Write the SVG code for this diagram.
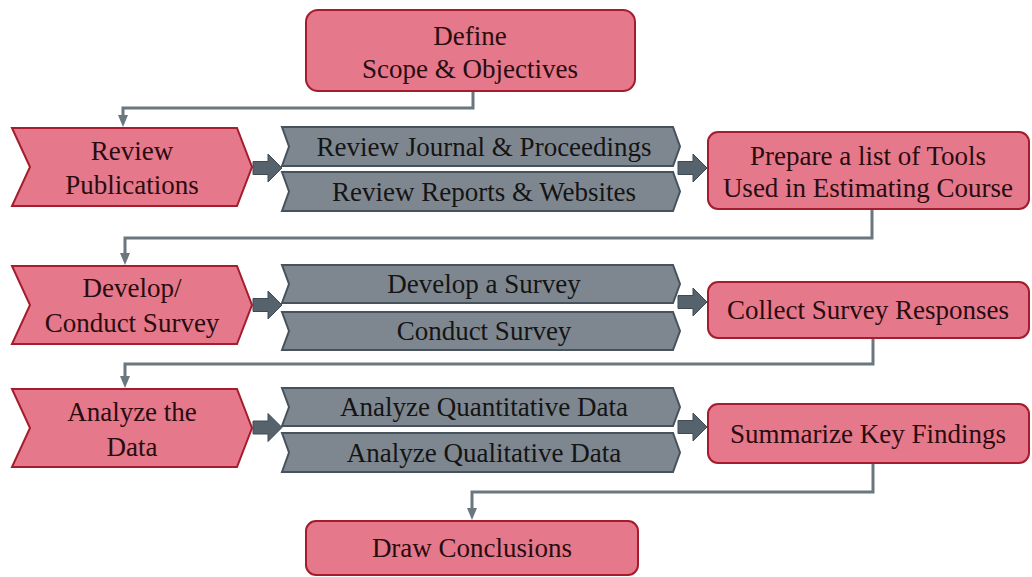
<svg xmlns="http://www.w3.org/2000/svg" width="1032" height="577" viewBox="0 0 1032 577">
  <defs>
    <style>
      .pink { fill: #E5788A; stroke: #A51C2C; stroke-width: 2; }
      .gray { fill: #7E878F; stroke: #46525C; stroke-width: 2; }
      .blk { fill: #56626C; stroke: #3E4A54; stroke-width: 1; }
      .conn { fill: none; stroke: #6B777F; stroke-width: 3; }
      .tp { fill: #2A0C10; }
      .tg { fill: #141414; }
      .lbl { font-family: 'Liberation Serif', 'Times New Roman', Times, 'Nimbus Roman', 'Nimbus Roman No9 L', FreeSerif, 'Noto Serif', 'DejaVu Serif', Tinos, serif; font-size: 27px; text-anchor: middle; }
    </style>
  </defs>

  <!-- connectors between stages -->
  <g id="connectors">
    <path class="conn" d="M473,91 V108 H123 V115"/>
    <path d="M118,115 L128,115 L123,127 Z" fill="#6B777F"/>
    <path class="conn" d="M872,209 V238 H125 V253"/>
    <path d="M120,253 L130,253 L125,265 Z" fill="#6B777F"/>
    <path class="conn" d="M873,338 V364 H125 V376"/>
    <path d="M120,376 L130,376 L125,388 Z" fill="#6B777F"/>
    <path class="conn" d="M873,463 V492 H472 V508"/>
    <path d="M467,508 L477,508 L472,520 Z" fill="#6B777F"/>

    <!-- block arrows -->
    <path class="blk" d="M253,161.5 H268 V154 L282,168 L268,182 V174.5 H253 Z"/>
    <path class="blk" d="M678,161.5 H693 V154 L707,168 L693,182 V174.5 H678 Z"/>
    <path class="blk" d="M253,298.5 H268 V291 L282,305 L268,319 V311.5 H253 Z"/>
    <path class="blk" d="M678,295.5 H693 V288 L707,302 L693,316 V308.5 H678 Z"/>
    <path class="blk" d="M253,421 H268 V413.5 L282,427.5 L268,441.5 V434 H253 Z"/>
    <path class="blk" d="M678,420.5 H693 V413 L707,427 L693,441 V433.5 H678 Z"/>
  </g>

  <g class="lbl">
  <!-- start -->
  <g id="define">
    <rect class="pink" x="306" y="10" width="329" height="81" rx="12"/>
    <text class="tp" x="470" y="45">Define</text>
    <text class="tp" x="470" y="78">Scope &amp; Objectives</text>
  </g>

  <!-- stage 1 -->
  <g id="review-publications">
    <polygon class="pink" points="12,128 237,128 252,167 237,206 12,206 30,167"/>
    <text class="tp" x="132" y="160">Review</text>
    <text class="tp" x="132" y="194">Publications</text>
  </g>
  <g id="review-journal">
    <polygon class="gray" points="282,127 673,127 680,146.5 673,166 282,166 289,146.5"/>
    <text class="tg" x="484" y="156">Review Journal &amp; Proceedings</text>
  </g>
  <g id="review-reports">
    <polygon class="gray" points="282,172 673,172 680,191.5 673,211 282,211 289,191.5"/>
    <text class="tg" x="484" y="201">Review Reports &amp; Websites</text>
  </g>
  <g id="prepare-list">
    <rect class="pink" x="708" y="132" width="321" height="77" rx="10"/>
    <text class="tp" x="868" y="165">Prepare a list of Tools</text>
    <text class="tp" x="868" y="197">Used in Estimating Course</text>
  </g>

  <!-- stage 2 -->
  <g id="develop-conduct">
    <polygon class="pink" points="12,266 237,266 252,305 237,344 12,344 30,305"/>
    <text class="tp" x="132" y="297">Develop/</text>
    <text class="tp" x="132" y="332">Conduct Survey</text>
  </g>
  <g id="develop-survey">
    <polygon class="gray" points="282,265 673,265 680,284 673,303 282,303 289,284"/>
    <text class="tg" x="484" y="293">Develop a Survey</text>
  </g>
  <g id="conduct-survey">
    <polygon class="gray" points="282,312 673,312 680,331 673,350 282,350 289,331"/>
    <text class="tg" x="484" y="340">Conduct Survey</text>
  </g>
  <g id="collect-responses">
    <rect class="pink" x="708" y="282" width="321" height="56" rx="10"/>
    <text class="tp" x="868" y="319">Collect Survey Responses</text>
  </g>

  <!-- stage 3 -->
  <g id="analyze-data">
    <polygon class="pink" points="12,389 237,389 252,428 237,467 12,467 30,428"/>
    <text class="tp" x="132" y="421">Analyze the</text>
    <text class="tp" x="132" y="456">Data</text>
  </g>
  <g id="analyze-quantitative">
    <polygon class="gray" points="282,388 673,388 680,407 673,426 282,426 289,407"/>
    <text class="tg" x="484" y="416">Analyze Quantitative Data</text>
  </g>
  <g id="analyze-qualitative">
    <polygon class="gray" points="282,433 673,433 680,452.5 673,472 282,472 289,452.5"/>
    <text class="tg" x="484" y="462">Analyze Qualitative Data</text>
  </g>
  <g id="summarize-findings">
    <rect class="pink" x="708" y="404" width="321" height="59" rx="10"/>
    <text class="tp" x="868" y="443">Summarize Key Findings</text>
  </g>

  <!-- end -->
  <g id="draw-conclusions">
    <rect class="pink" x="306" y="521" width="332" height="54" rx="10"/>
    <text class="tp" x="472" y="557">Draw Conclusions</text>
  </g>
  </g>
</svg>
